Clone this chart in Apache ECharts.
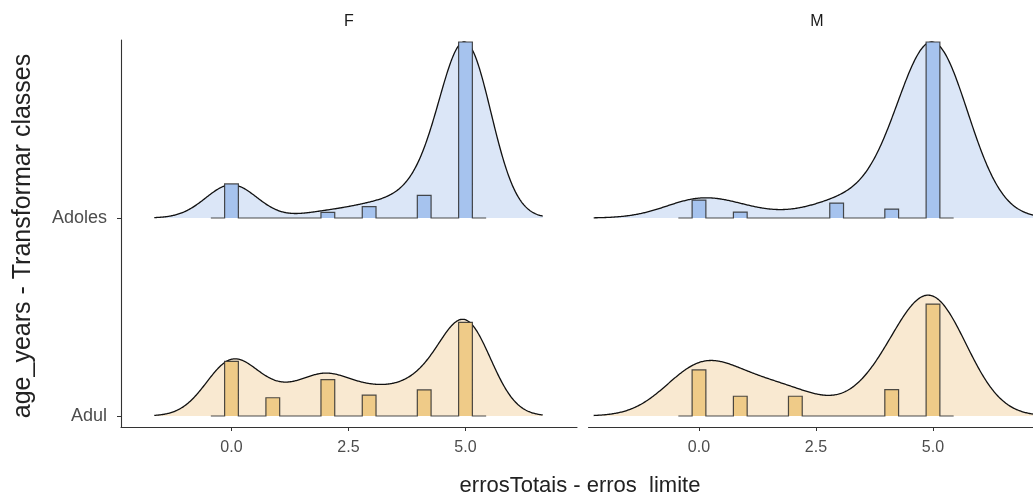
<!DOCTYPE html>
<html>
<head>
<meta charset="utf-8">
<script src="https://cdn.jsdelivr.net/npm/echarts@6/dist/echarts.min.js"></script>
<style>
  html, body { margin: 0; padding: 0; background: #ffffff; }
  #chart { width: 1033px; height: 495px; }
</style>
</head>
<body>
<div id="chart"></div>
<script>
// Observed values of errosTotais - erros limite
const errorValues = [0, 1, 2, 3, 4, 5];
// Facet panels (sex) and ridge classes (bottom to top)
const sexPanels = ['F', 'M'];
const ageClasses = ['Adul', 'Adoles'];
// Counts per error value, per panel and class
const countsF_Adul = [21, 7, 14, 8, 10, 36];
const countsF_Adoles = [6, 0, 1, 2, 4, 31];
const countsM_Adul = [7, 3, 3, 0, 4, 17];
const countsM_Adoles = [6, 2, 0, 5, 3, 59];
// Kernel bandwidth per panel
const bandwidthF = 0.55;
const bandwidthM = 0.75;
// Histogram bins and axis ticks
const histBins = 18;
const xTicks = [0, 2.5, 5];
const yTicks = [0, 1];

const panelCounts = [[countsF_Adul, countsF_Adoles], [countsM_Adul, countsM_Adoles]];
const panelBandwidth = [bandwidthF, bandwidthM];

const RIDGE_HEIGHT = 0.889;          // tallest ridge, in units of ridge spacing
const PX_PER_UNIT = 46.8;            // horizontal scale shared by both panels
const PANEL_W = 456;
const X_MIN = -2.361;
const X_MAX_F = X_MIN + PANEL_W / PX_PER_UNIT;
const M_LEFT = 588.5, CANVAS_W = 1033;
// the M panel runs past the right edge of the canvas; keep the same scale
const X_MAX_M = X_MIN + (CANVAS_W - M_LEFT) / PX_PER_UNIT;
const Y_MIN = -0.0556, Y_MAX = 1.899;

const fills = { Adul: '#f9e9d1', Adoles: '#dbe6f7' };
const barFills = { Adul: '#efcb88', Adoles: '#a6c3ee' };

function total(a) { return a.reduce((s, v) => s + v, 0); }

// Gaussian kernel density, extended 3 bandwidths beyond the data range
function kde(counts, h) {
  const n = total(counts);
  const present = errorValues.filter((v, k) => counts[k] > 0);
  const lo = Math.min(...present) - 3 * h, hi = Math.max(...present) + 3 * h;
  const pts = [];
  const N = 512;
  for (let i = 0; i < N; i++) {
    const x = lo + (hi - lo) * i / (N - 1);
    let d = 0;
    errorValues.forEach((v, k) => {
      const z = (x - v) / h;
      d += counts[k] * Math.exp(-0.5 * z * z);
    });
    pts.push([x, d / (n * h * Math.sqrt(2 * Math.PI))]);
  }
  return pts;
}

// Histogram step outline with one empty bin of padding on each side
function binline(counts) {
  const n = total(counts);
  const lo = Math.min(...errorValues), hi = Math.max(...errorValues);
  const w = (hi - lo) / (histBins - 1);
  const dens = new Array(histBins + 2).fill(0);
  errorValues.forEach((v, k) => {
    const idx = Math.round((v - lo) / w) + 1;
    dens[idx] += counts[k] / (n * w);
  });
  const pts = [];
  for (let i = 0; i < dens.length; i++) {
    const c = lo + (i - 1) * w;
    pts.push([c - w / 2, dens[i]], [c + w / 2, dens[i]]);
  }
  return pts;
}

const series = [];
panelCounts.forEach((groups, p) => {
  const dens = groups.map(c => kde(c, panelBandwidth[p]));
  const hists = groups.map(c => binline(c));
  const dMax = Math.max(...dens.map(d => Math.max(...d.map(q => q[1]))));
  const hMax = Math.max(...hists.map(d => Math.max(...d.map(q => q[1]))));

  groups.forEach((c, g) => {
    const base = g;
    const cls = ageClasses[g];
    const dPts = dens[g].map(q => [q[0], base + q[1] / dMax * RIDGE_HEIGHT]);
    const hPts = hists[g].map(q => [q[0], base + q[1] / hMax * RIDGE_HEIGHT]);
    series.push({
      type: 'custom',
      xAxisIndex: p, yAxisIndex: p,
      silent: true,
      clip: false,
      data: [[0, base]],
      renderItem: function (params, api) {
        const curve = dPts.map(q => api.coord(q));
        const first = api.coord([dPts[0][0], base]);
        const last = api.coord([dPts[dPts.length - 1][0], base]);
        const step = hPts.map(q => api.coord(q));
        const sFirst = api.coord([hPts[0][0], base]);
        const sLast = api.coord([hPts[hPts.length - 1][0], base]);
        return {
          type: 'group',
          children: [
            { type: 'polygon', shape: { points: [first].concat(curve, [last]) },
              style: { fill: fills[cls], stroke: null } },
            { type: 'polyline', shape: { points: curve },
              style: { fill: null, stroke: '#111111', lineWidth: 1.3 } },
            { type: 'polygon', shape: { points: [sFirst].concat(step, [sLast]) },
              style: { fill: barFills[cls], stroke: null } },
            { type: 'polyline', shape: { points: [sFirst].concat(step, [sLast]) },
              style: { fill: null, stroke: 'rgba(45,45,45,0.85)', lineWidth: 1.2 } }
          ]
        };
      }
    });
  });
});

const FONT = '"Liberation Sans", Arial, Helvetica, sans-serif';

function xAxisFor(i, max) {
  return {
    type: 'value', gridIndex: i, min: X_MIN, max: max,
    axisLine: { show: true, onZero: false, lineStyle: { color: '#333333', width: 1.1 } },
    axisTick: { show: true, customValues: xTicks, length: 4, lineStyle: { color: '#333333' } },
    axisLabel: { customValues: xTicks, formatter: v => v.toFixed(1), color: '#4d4d4d',
                 fontSize: 16, fontFamily: FONT, margin: 13 },
    splitLine: { show: false }
  };
}

const option = {
  animation: false,
  backgroundColor: '#ffffff',
  grid: [
    { left: 121, top: 40, width: PANEL_W, height: 387 },
    { left: M_LEFT, top: 40, width: CANVAS_W - M_LEFT, height: 387 }
  ],
  xAxis: [xAxisFor(0, X_MAX_F), xAxisFor(1, X_MAX_M)],
  yAxis: [
    {
      type: 'value', gridIndex: 0, min: Y_MIN, max: Y_MAX,
      axisLine: { show: true, onZero: false, lineStyle: { color: '#333333', width: 1.1 } },
      axisTick: { show: true, customValues: yTicks, length: 4, lineStyle: { color: '#333333' } },
      axisLabel: { customValues: yTicks, formatter: v => ageClasses[Math.round(v)],
                   color: '#4d4d4d', fontSize: 18, fontFamily: FONT, margin: 14 },
      splitLine: { show: false }
    },
    { type: 'value', gridIndex: 1, min: Y_MIN, max: Y_MAX, show: false }
  ],
  graphic: [
    { type: 'text', x: 349, y: 22, silent: true,
      style: { text: sexPanels[0], font: '16px ' + FONT, fill: '#1a1a1a',
               textAlign: 'center', textVerticalAlign: 'middle' } },
    { type: 'text', x: 817, y: 22, silent: true,
      style: { text: sexPanels[1], font: '16px ' + FONT, fill: '#1a1a1a',
               textAlign: 'center', textVerticalAlign: 'middle' } },
    { type: 'text', x: 580, y: 486, silent: true,
      style: { text: 'errosTotais - erros  limite', font: '22px ' + FONT, fill: '#222222',
               textAlign: 'center', textVerticalAlign: 'middle' } },
    { type: 'text', x: 23, y: 236, rotation: Math.PI / 2, silent: true,
      style: { text: 'age_years - Transformar classes', font: '25px ' + FONT, fill: '#222222',
               textAlign: 'center', textVerticalAlign: 'middle' } }
  ],
  series: series
};

const chart = echarts.init(document.getElementById('chart'), null, { renderer: 'canvas' });
chart.setOption(option);
</script>
</body>
</html>
